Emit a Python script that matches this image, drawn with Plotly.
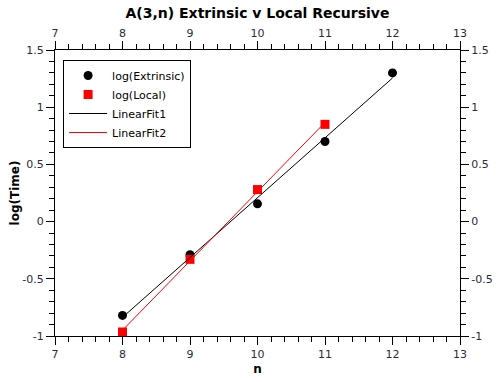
import numpy as np
import plotly.graph_objects as go

n_ext = [8, 9, 10, 11, 12]
log_ext = [-0.82, -0.29, 0.155, 0.70, 1.30]
n_loc = [8, 9, 10, 11]
log_loc = [-0.965, -0.33, 0.28, 0.85]

x_ticks = [7, 8, 9, 10, 11, 12, 13]
y_ticks = [-1, -0.5, 0, 0.5, 1, 1.5]
y_labels = ["-1", "-0.5", "0", "0.5", "1", "1.5"]

# Linear fits derived from the data
p1 = np.polyfit(n_ext, log_ext, 1)
p2 = np.polyfit(n_loc, log_loc, 1)
fit1_x = [min(n_ext), max(n_ext)]
fit1_y = list(np.polyval(p1, fit1_x))
fit2_x = [min(n_loc), max(n_loc)]
fit2_y = list(np.polyval(p2, fit2_x))

FONT = "DejaVu Sans"
TICKC = "#2a2a3a"

fig = go.Figure()
fig.add_trace(go.Scatter(x=n_ext, y=log_ext, mode="markers", name="log(Extrinsic)",
                         marker=dict(symbol="circle", size=9, color="black")))
fig.add_trace(go.Scatter(x=n_loc, y=log_loc, mode="markers", name="log(Local)",
                         marker=dict(symbol="square", size=9, color="red")))
fig.add_trace(go.Scatter(x=fit1_x, y=fit1_y, mode="lines", name="LinearFit1",
                         line=dict(color="black", width=1)))
fig.add_trace(go.Scatter(x=fit2_x, y=fit2_y, mode="lines", name="LinearFit2",
                         line=dict(color="red", width=1)))
# invisible trace for top/right axes
fig.add_trace(go.Scatter(x=[7, 13], y=[-1, 1.5], mode="markers", xaxis="x2", yaxis="y2",
                         marker=dict(opacity=0), showlegend=False, hoverinfo="skip"))

axis_common = dict(showgrid=False, zeroline=False, showline=True, linecolor="black",
                   linewidth=1, ticks="outside", ticklen=8, tickcolor="black", tickwidth=1,
                   automargin=False,
                   tickfont=dict(family=FONT, size=11, color=TICKC))
minor_x = dict(dtick=0.2, ticklen=5, ticks="outside", tickcolor="black", showgrid=False)
minor_y = dict(dtick=0.1, ticklen=5, ticks="outside", tickcolor="black", showgrid=False)

fig.update_layout(
    width=502, height=382,
    margin=dict(l=55, r=42, t=50, b=46),
    paper_bgcolor="white", plot_bgcolor="white",
    title=dict(text="<b>A(3,n) Extrinsic v Local Recursive</b>", x=0.5, xref="paper",
               y=1 - 13 / 382, yref="container", xanchor="center", yanchor="middle",
               font=dict(family=FONT, size=14, color="black")),
    xaxis=dict(range=[7, 13], tickvals=x_ticks, title=dict(text="<b>n</b>", standoff=4,
               font=dict(family=FONT, size=12, color="black")),
               minor=minor_x, **axis_common),
    yaxis=dict(range=[-1, 1.5], tickvals=y_ticks, ticktext=y_labels,
               title=dict(text="<b>log(Time)</b>", standoff=0,
               font=dict(family=FONT, size=12, color="black")),
               minor=minor_y, **axis_common),
    xaxis2=dict(range=[7, 13], tickvals=x_ticks, overlaying="x", side="top", anchor="y",
                minor=minor_x, **axis_common),
    yaxis2=dict(range=[-1, 1.5], tickvals=y_ticks, ticktext=y_labels,
                overlaying="y", side="right", anchor="x",
                minor=minor_y, **axis_common),
    legend=dict(x=0.02, y=0.965, xanchor="left", yanchor="top", bgcolor="white",
                bordercolor="black", borderwidth=1, tracegroupgap=0, itemwidth=38,
                font=dict(family=FONT, size=11, color="black")),
    showlegend=True,
)

fig.write_html("out.html", config={"displayModeBar": False},
               post_script="document.body.style.margin='0';")
